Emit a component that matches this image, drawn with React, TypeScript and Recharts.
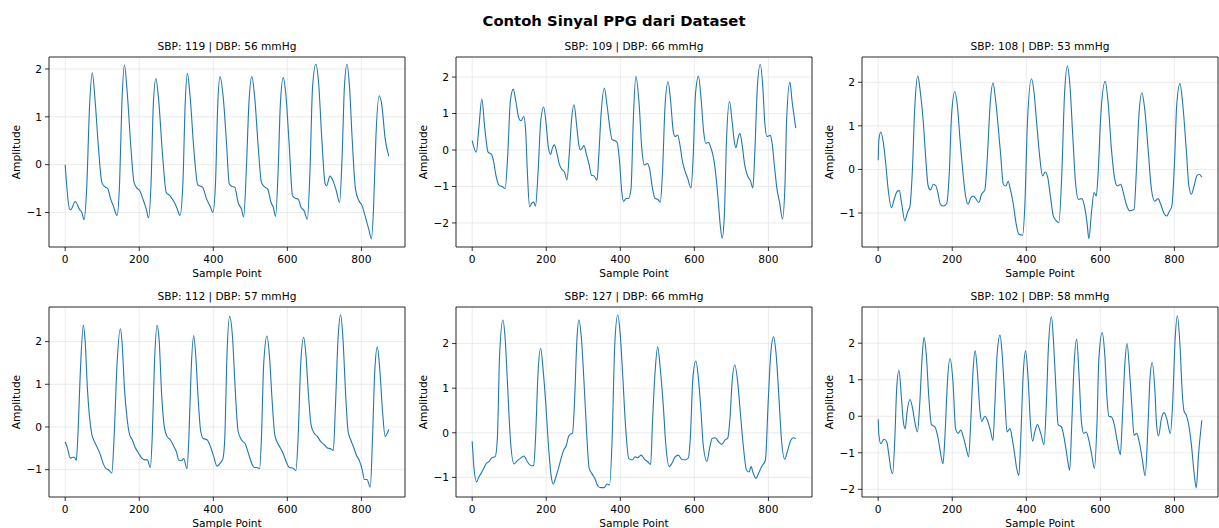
import { LineChart, Line, XAxis, YAxis, CartesianGrid, ReferenceArea } from 'recharts'

const FONT = '"DejaVu Sans", Verdana, sans-serif'

// subplot titles and ticks
const titles = [
  'SBP: 119 | DBP: 56 mmHg',
  'SBP: 109 | DBP: 66 mmHg',
  'SBP: 108 | DBP: 53 mmHg',
  'SBP: 112 | DBP: 57 mmHg',
  'SBP: 127 | DBP: 66 mmHg',
  'SBP: 102 | DBP: 58 mmHg',
]
const xTicks = [0, 200, 400, 600, 800]
const yTicks = [
  [-1, 0, 1, 2],
  [-2, -1, 0, 1, 2],
  [-1, 0, 1, 2],
  [-1, 0, 1, 2],
  [-1, 0, 1, 2],
  [-2, -1, 0, 1, 2],
]
const yDomains: [number, number][] = [
  [-1.72, 2.25],
  [-2.66, 2.55],
  [-1.78, 2.58],
  [-1.64, 2.81],
  [-1.44, 2.82],
  [-2.21, 2.99],
]

// signal readings: [sample index, amplitude]
const sig1: [number, number][] = [
  [0, 0.0], [12, -0.93], [15, -0.94], [27, -0.77], [39, -0.94], [45, -1.0], [51, -1.15], [58, -0.5], [66, 1.25], [73, 1.92],
  [81, 1.32], [90, 0.34], [99, -0.37], [108, -0.47], [115, -0.5], [123, -0.72], [130, -0.86], [140, -1.06], [147, -0.37], [153, 1.25],
  [160, 2.08], [168, 1.46], [177, 0.41], [186, -0.37], [194, -0.49], [201, -0.54], [210, -0.72], [219, -0.93], [225, -1.11], [232, -0.37],
  [238, 1.25], [245, 1.8], [252, 1.39], [263, 0.2], [273, -0.58], [283, -0.65], [292, -0.75], [301, -0.89], [310, -1.06], [318, -0.37],
  [324, 1.25], [330, 1.91], [337, 1.46], [348, 0.27], [358, -0.42], [371, -0.47], [382, -0.72], [391, -0.86], [399, -1.0], [406, -0.37],
  [412, 1.25], [418, 1.84], [427, 1.39], [436, 0.41], [443, -0.4], [449, -0.45], [458, -0.47], [467, -0.79], [476, -0.93], [482, -1.09],
  [489, -0.15], [496, 1.25], [504, 1.84], [512, 1.39], [521, 0.41], [530, -0.37], [538, -0.46], [547, -0.51], [556, -0.79], [562, -0.89],
  [568, -1.08], [575, -0.15], [581, 1.25], [589, 1.82], [596, 1.46], [605, 0.41], [614, -0.65], [621, -0.7], [629, -0.72], [637, -0.89],
  [645, -0.96], [654, -1.14], [661, -0.15], [668, 1.61], [677, 2.1], [684, 1.75], [693, 0.55], [702, -0.4], [706, -0.44], [715, -0.24],
  [723, -0.33], [732, -0.54], [741, -0.79], [748, 0.2], [754, 1.61], [761, 2.1], [768, 1.61], [775, 0.55], [784, -0.51], [793, -0.75],
  [802, -0.86], [811, -1.1], [820, -1.35], [827, -1.55], [833, -0.86], [839, 0.55], [848, 1.44], [855, 1.25], [864, 0.55], [874, 0.18],
]

const sig2: [number, number][] = [
  [0, 0.26], [11, -0.06], [18, 0.6], [26, 1.4], [34, 0.6], [43, -0.06], [52, -0.12], [58, -0.32], [64, -0.69], [73, -0.97],
  [82, -1.01], [89, -1.06], [96, -0.14], [103, 1.33], [111, 1.67], [118, 1.33], [126, 0.87], [132, 0.8], [139, 0.92], [144, 0.6],
  [149, -0.6], [155, -1.56], [160, -1.47], [166, -1.43], [171, -1.54], [178, -0.6], [185, 0.78], [193, 1.18], [200, 0.69], [206, 0.05],
  [212, -0.12], [216, 0.03], [222, 0.14], [228, -0.05], [236, -0.41], [242, -0.53], [249, -0.6], [256, -0.82], [262, -0.14], [268, 0.78],
  [275, 1.24], [282, 0.69], [288, 0.14], [293, 0], [302, 0.12], [309, -0.14], [316, -0.41], [322, -0.69], [329, -0.71], [337, -0.83],
  [342, -0.14], [348, 0.97], [357, 1.7], [364, 1.24], [372, 0.6], [378, 0.28], [385, 0.26], [391, 0.21], [398, -0.32], [404, -1.15],
  [409, -1.41], [415, -1.33], [422, -1.33], [429, -1.06], [435, 0.78], [442, 2.02], [451, 1.24], [458, 0.05], [465, -0.41], [473, -0.37],
  [479, -0.51], [487, -1.06], [494, -1.33], [501, -1.35], [508, -1.43], [514, -0.6], [521, 1.24], [529, 1.87], [536, 1.33], [543, 0.51],
  [548, 0.37], [555, 0.41], [561, 0.14], [568, -0.32], [574, -0.55], [582, -0.78], [591, -1.04], [597, -0.14], [603, 1.52], [611, 2.02],
  [618, 1.43], [625, 0.51], [631, 0.18], [638, 0.21], [645, 0.05], [652, -0.23], [658, -0.69], [664, -1.33], [670, -2.07], [675, -2.42],
  [681, -1.79], [687, 0.32], [695, 1.33], [702, 0.78], [708, 0.23], [712, 0.06], [718, 0.32], [723, 0.46], [729, 0.14], [736, -0.41],
  [743, -0.69], [752, -0.86], [758, -1.04], [763, -0.14], [770, 1.7], [778, 2.35], [785, 1.7], [790, 0.78], [796, 0.37], [805, 0.4],
  [810, 0.18], [816, -0.41], [823, -1.06], [830, -1.43], [838, -1.89], [845, -0.87], [849, 0.78], [858, 1.86], [864, 1.33], [874, 0.6],
]

const sig3: [number, number][] = [
  [0, 0.21], [2, 0.69], [7, 0.86], [14, 0.61], [21, 0.08], [27, -0.46], [36, -0.88], [43, -0.69], [50, -0.52], [57, -0.48],
  [63, -0.76], [72, -1.18], [79, -0.99], [86, -0.84], [92, -0.08], [99, 1.45], [107, 2.14], [114, 1.76], [122, 1.07], [128, 0.31],
  [135, -0.38], [141, -0.47], [149, -0.34], [156, -0.38], [162, -0.57], [168, -0.8], [176, -0.84], [185, -0.78], [192, -0.08], [198, 1.22],
  [207, 1.79], [214, 1.45], [221, 0.69], [229, -0.08], [236, -0.61], [243, -0.8], [250, -0.65], [257, -0.61], [265, -0.69], [272, -0.76],
  [279, -0.57], [288, -0.47], [295, 0.31], [302, 1.45], [310, 1.98], [317, 1.6], [324, 0.99], [331, 0.31], [338, -0.34], [345, -0.38],
  [351, -0.27], [357, -0.46], [365, -0.8], [372, -1.22], [380, -1.49], [390, -1.51], [396, -0.84], [403, 1.07], [414, 2.08], [421, 1.76],
  [428, 1.07], [436, 0.31], [444, -0.15], [451, -0.06], [458, -0.19], [465, -0.61], [473, -1.07], [480, -1.17], [488, -1.22], [496, -0.08],
  [503, 1.68], [511, 2.37], [518, 1.91], [526, 0.69], [533, -0.31], [541, -0.69], [550, -0.67], [557, -0.84], [564, -1.22], [569, -1.59],
  [576, -0.99], [583, -0.53], [589, -0.61], [594, -0.08], [601, 1.22], [613, 2.02], [621, 1.53], [630, 0.46], [639, -0.23], [646, -0.38],
  [655, -0.34], [662, -0.53], [670, -0.8], [679, -0.95], [691, -0.92], [697, -0.08], [704, 1.22], [712, 1.76], [720, 1.37], [729, 0.46],
  [738, -0.46], [747, -0.73], [756, -0.67], [763, -0.8], [772, -1.01], [779, -1.07], [787, -0.95], [793, -0.84], [801, 0.31], [806, 1.45],
  [815, 1.97], [823, 1.45], [832, 0.46], [839, -0.38], [846, -0.57], [853, -0.38], [861, -0.14], [867, -0.11], [874, -0.18],
]

const sig4: [number, number][] = [
  [0, -0.35], [6, -0.49], [14, -0.73], [20, -0.71], [25, -0.71], [30, -0.78], [34, -0.26], [41, 1.3], [49, 2.38], [54, 2.0],
  [60, 0.91], [66, 0.21], [72, -0.18], [79, -0.34], [87, -0.49], [95, -0.65], [102, -0.84], [111, -0.98], [117, -1.0], [126, -1.08],
  [132, -0.26], [140, 1.46], [149, 2.3], [154, 1.93], [160, 0.91], [167, 0.21], [174, -0.18], [181, -0.3], [189, -0.48], [198, -0.61],
  [207, -0.73], [216, -0.77], [222, -0.77], [230, -0.95], [235, -0.26], [241, 1.46], [248, 2.38], [254, 2.0], [260, 0.84], [267, 0.05],
  [275, -0.22], [284, -0.3], [293, -0.45], [300, -0.57], [307, -0.78], [314, -0.79], [320, -0.74], [329, -0.98], [334, -0.26], [340, 1.3],
  [347, 2.14], [353, 1.62], [359, 0.68], [366, -0.1], [373, -0.27], [383, -0.3], [392, -0.45], [401, -0.69], [410, -0.92], [419, -0.84],
  [426, -0.74], [431, -0.26], [437, 1.7], [444, 2.59], [452, 2.09], [459, 0.91], [467, -0.1], [476, -0.3], [487, -0.41], [496, -0.65],
  [505, -0.88], [511, -0.95], [518, -0.95], [525, -0.98], [530, -0.26], [536, 1.46], [545, 2.13], [552, 1.62], [559, 0.6], [566, -0.18],
  [574, -0.38], [581, -0.49], [590, -0.65], [598, -0.84], [605, -0.95], [614, -0.96], [623, -1.02], [629, -0.26], [636, 1.46], [644, 2.1],
  [650, 1.7], [657, 0.76], [664, 0.05], [672, -0.14], [681, -0.22], [690, -0.34], [699, -0.41], [708, -0.49], [717, -0.51], [724, -0.55],
  [730, 0.52], [737, 2.09], [744, 2.63], [750, 2.09], [757, 0.84], [764, -0.1], [771, -0.3], [778, -0.45], [786, -0.65], [795, -0.8],
  [802, -1.0], [808, -1.23], [815, -1.23], [824, -1.41], [830, -0.26], [836, 1.3], [843, 1.87], [850, 1.3], [857, 0.37], [864, -0.22],
  [874, -0.06],
]

const sig5: [number, number][] = [
  [0, -0.19], [5, -0.8], [12, -1.1], [18, -0.99], [24, -0.91], [31, -0.8], [38, -0.69], [46, -0.64], [53, -0.56], [62, -0.54],
  [68, -0.13], [74, 1.74], [83, 2.53], [89, 2.12], [96, 0.99], [103, -0.13], [113, -0.7], [120, -0.64], [129, -0.58], [140, -0.52],
  [149, -0.65], [160, -0.74], [166, -0.74], [171, -0.13], [178, 1.37], [185, 1.89], [192, 1.37], [199, 0.62], [206, -0.28], [213, -0.95],
  [219, -1.15], [225, -1.02], [233, -0.8], [240, -0.58], [247, -0.39], [254, -0.29], [260, -0.09], [265, -0.03], [271, -0.01], [276, 0.62],
  [283, 2.12], [288, 2.53], [295, 2.12], [302, 1.14], [309, 0.02], [316, -0.8], [323, -0.91], [331, -1.02], [340, -1.2], [348, -1.23],
  [357, -1.23], [364, -1.15], [371, -1.17], [378, -0.13], [385, 1.97], [393, 2.64], [400, 2.19], [407, 1.22], [414, 0.17], [423, -0.58],
  [432, -0.61], [440, -0.54], [447, -0.56], [456, -0.5], [465, -0.59], [474, -0.65], [482, -0.71], [487, 0.25], [494, 1.37], [501, 1.93],
  [508, 1.44], [516, 0.62], [523, -0.28], [532, -0.76], [539, -0.69], [548, -0.54], [557, -0.5], [566, -0.6], [575, -0.61], [584, -0.56],
  [589, -0.13], [596, 1.22], [604, 1.61], [611, 1.22], [618, 0.47], [624, -0.28], [634, -0.64], [641, -0.35], [648, -0.13], [656, -0.11],
  [665, -0.2], [674, -0.26], [683, -0.16], [690, -0.12], [696, 0.3], [702, 1.14], [709, 1.52], [717, 1.14], [724, 0.47], [732, -0.28],
  [741, -0.84], [748, -0.88], [753, -0.76], [759, -0.91], [766, -1.02], [775, -0.88], [783, -0.74], [792, -0.61], [799, 0.62], [806, 1.74],
  [814, 2.15], [821, 1.74], [828, 0.85], [835, -0.13], [844, -0.59], [851, -0.43], [859, -0.2], [867, -0.11], [874, -0.13],
]

const sig6: [number, number][] = [
  [0, -0.08], [2, -0.52], [7, -0.75], [16, -0.63], [23, -0.7], [29, -1.07], [34, -1.43], [39, -1.57], [45, -0.61], [50, 0.76],
  [56, 1.26], [63, 0.48], [68, -0.16], [73, -0.34], [78, 0.12], [86, 0.46], [93, 0.21], [99, -0.16], [106, -0.43], [112, 0.3],
  [119, 1.67], [124, 2.16], [130, 1.67], [137, 0.48], [144, -0.23], [153, -0.29], [162, -0.61], [168, -0.98], [175, -1.3], [180, -0.61],
  [187, 0.94], [194, 1.58], [202, 0.94], [209, -0.34], [216, -0.47], [223, -0.38], [230, -0.57], [238, -0.89], [244, -1.11], [250, -0.16],
  [256, 1.21], [262, 1.79], [268, 1.21], [275, 0.12], [280, -0.14], [288, 0], [295, -0.11], [302, -0.34], [310, -0.66], [315, 0.3],
  [321, 1.67], [329, 2.22], [335, 1.67], [342, 0.48], [348, -0.43], [356, -0.34], [362, -0.61], [369, -1.07], [374, -1.43], [380, -1.62],
  [385, -0.61], [392, 1.21], [398, 1.79], [405, 1.03], [411, -0.16], [417, -0.68], [423, -0.43], [430, -0.23], [439, -0.47], [448, -0.78],
  [454, 0.3], [460, 1.95], [468, 2.72], [474, 1.95], [480, 0.76], [486, -0.23], [495, -0.29], [504, -0.7], [511, -1.16], [517, -1.48],
  [523, -0.16], [529, 1.4], [536, 2.11], [542, 1.21], [549, -0.16], [555, -0.47], [562, -0.43], [569, -0.66], [577, -1.07], [584, -1.43],
  [591, -0.16], [596, 1.58], [605, 2.29], [612, 1.67], [618, 0.48], [623, 0], [630, -0.02], [637, -0.2], [646, -0.7], [654, -1.05],
  [659, -0.16], [666, 1.4], [672, 1.99], [679, 1.21], [686, 0.12], [691, -0.52], [698, -0.47], [705, -0.7], [713, -1.16], [721, -1.63],
  [729, -0.16], [734, 1.03], [740, 1.47], [747, 0.76], [752, -0.25], [757, -0.54], [765, -0.06], [772, 0.1], [779, -0.06], [789, -0.47],
  [795, 0.3], [802, 2.13], [808, 2.75], [815, 1.95], [821, 0.67], [826, 0.14], [832, 0.03], [838, -0.2], [846, -0.79], [853, -1.53],
  [859, -1.96], [865, -1.07], [874, -0.11],
]

const signals = [sig1, sig2, sig3, sig4, sig5, sig6]

// layout (plot-area positions in page pixels)
const colLeft = [49, 456, 862]
const rowTop = [57, 307]
const PW = 356
const PH = 190
const X_DOMAIN: [number, number] = [-43.7, 917.7]
const Y_AXIS_W = 49
const X_AXIS_H = 30

const fmt = (v: number) => (v < 0 ? `\u2212${Math.abs(v)}` : String(v))

const tickStyle = { fontSize: 10.6, fill: '#000', fontFamily: FONT }

function Panel({ idx }: { idx: number }) {
  const left = colLeft[idx % 3]
  const top = rowTop[Math.floor(idx / 3)]
  const data = signals[idx].map(([s, v]) => ({ s, v }))
  const [y0, y1] = yDomains[idx]
  return (
    <>
      <div
        style={{
          position: 'absolute', left, top: top - 17, width: PW, textAlign: 'center',
          fontSize: 10.6, lineHeight: '12px', whiteSpace: 'nowrap',
        }}
      >
        {titles[idx]}
      </div>
      <div
        style={{
          position: 'absolute', left: left - 33 - 50, top: top + PH / 2 - 6, width: 100, textAlign: 'center',
          fontSize: 10.6, lineHeight: '12px', transform: 'rotate(-90deg)',
        }}
      >
        Amplitude
      </div>
      <div
        style={{
          position: 'absolute', left, top: top + PH + 20, width: PW, textAlign: 'center',
          fontSize: 10.6, lineHeight: '12px',
        }}
      >
        Sample Point
      </div>
      <div style={{ position: 'absolute', left: left - Y_AXIS_W, top: top - 1 }}>
        <LineChart
          width={Y_AXIS_W + PW + 2}
          height={1 + PH + X_AXIS_H}
          data={data}
          margin={{ top: 1, right: 2, bottom: 0, left: 0 }}
        >
          <CartesianGrid stroke="#e6e6e6" strokeWidth={0.8} />
          <XAxis
            dataKey="s"
            type="number"
            domain={X_DOMAIN}
            ticks={xTicks}
            allowDataOverflow
            height={X_AXIS_H}
            axisLine={false}
            tickLine={{ stroke: '#000', strokeWidth: 0.8 }}
            tickSize={4}
            tickMargin={4}
            tick={tickStyle}
            tickFormatter={fmt}
          />
          <YAxis
            type="number"
            domain={[y0, y1]}
            ticks={yTicks[idx]}
            allowDataOverflow
            width={Y_AXIS_W}
            axisLine={false}
            tickLine={{ stroke: '#000', strokeWidth: 0.8 }}
            tickSize={4}
            tickMargin={3}
            tick={tickStyle}
            tickFormatter={fmt}
          />
          <Line
            type="monotone"
            dataKey="v"
            stroke="#1f77b4"
            strokeWidth={1.1}
            dot={false}
            isAnimationActive={false}
          />
          <ReferenceArea
            x1={X_DOMAIN[0]}
            x2={X_DOMAIN[1]}
            y1={y0}
            y2={y1}
            fill="none"
            stroke="#000"
            strokeWidth={0.8}
            ifOverflow="visible"
          />
        </LineChart>
      </div>
    </>
  )
}

export default function App() {
  return (
    <div
      style={{
        position: 'absolute', left: 0, top: 0, width: 1219, height: 528, overflow: 'hidden',
        background: '#fff', fontFamily: FONT, color: '#000',
      }}
    >
      <div
        style={{
          position: 'absolute', left: 0, top: 12, width: 1228, textAlign: 'center',
          fontSize: 14.8, fontWeight: 'bold', lineHeight: '17px',
        }}
      >
        Contoh Sinyal PPG dari Dataset
      </div>
      {[0, 1, 2, 3, 4, 5].map((i) => (
        <Panel key={i} idx={i} />
      ))}
    </div>
  )
}
